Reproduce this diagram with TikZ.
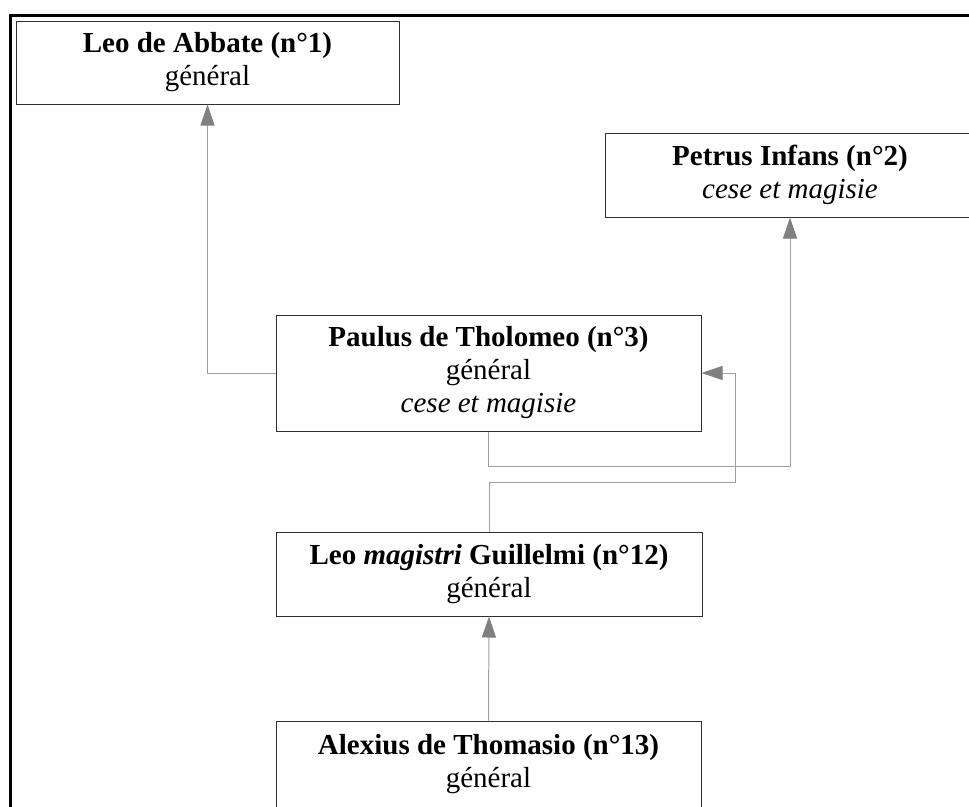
\documentclass[tikz,border=0pt]{standalone}
\usepackage{fontspec}
\setmainfont{Liberation Serif}
\usetikzlibrary{arrows.meta}
\definecolor{linegray}{HTML}{A0A0A0}
\definecolor{tipgray}{HTML}{808080}
\definecolor{boxline}{HTML}{303030}
\begin{document}
\begin{tikzpicture}[x=1pt,y=-1pt,
  personbox/.style={draw=boxline, line width=1pt, fill=white, inner sep=0pt,
    align=center, font=\fontsize{29}{33}\selectfont},
  conn/.style={draw=linegray, line width=1pt,
    -{Triangle[length=21pt,width=14pt,color=tipgray]}}]
\useasboundingbox (0,0) rectangle (969,806);
\clip (0,0) rectangle (969,806);
\fill[white] (0,0) rectangle (969,806);
% frame
\draw[line width=3pt, line cap=rect] (969,15.5) -- (10.5,15.5) -- (10.5,810);
% nodes
\node[personbox, minimum width=383pt, minimum height=83pt] (A) at (207.5,62.5)
  {\textbf{Leo de Abbate (n°1)}\\général};
\node[personbox, minimum width=370pt, minimum height=84pt] (B) at (790,175)
  {\textbf{Petrus Infans (n°2)}\\\textit{cese et magisie}};
\node[personbox, minimum width=425pt, minimum height=116pt] (C) at (488.5,373)
  {\textbf{Paulus de Tholomeo (n°3)}\\général\\\textit{cese et magisie}};
\node[personbox, minimum width=426pt, minimum height=84pt] (D) at (489,574)
  {\textbf{Leo \textit{magistri} Guillelmi (n°12)}\\général};
\node[personbox, minimum width=425pt, minimum height=86pt] (E) at (488.5,764)
  {\textbf{Alexius de Thomasio (n°13)}\\général};
% bend points
\coordinate (k1) at (735,482);
% connectors
\draw[conn] (C.west) -| (A.south);
\draw[conn] (C.south) -- ++(0,35) -| (B.south);
\draw[conn] (D.north) |- (k1) |- (C.east);
\draw[conn] (E.north) -- (D.south);
\end{tikzpicture}
\end{document}
